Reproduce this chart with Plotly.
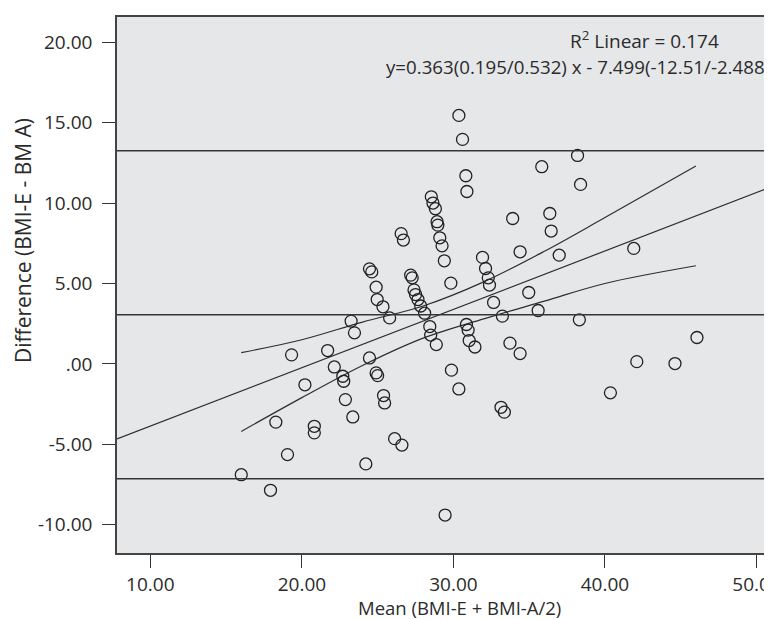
import plotly.graph_objects as go

# ---- data ----
mean_x = [30.36, 30.6, 35.83, 38.19, 38.39, 30.82, 30.89, 28.54, 28.65, 28.81,
          33.91, 36.36, 36.45, 28.92, 28.97, 29.1, 29.25, 29.4, 34.4, 36.98,
          31.92, 32.12, 32.3, 32.38, 29.83, 34.97, 32.65, 35.59, 38.31, 33.23,
          27.18, 27.28, 27.4, 27.5, 27.66, 27.84, 28.1, 28.44, 28.5, 28.87,
          30.86, 30.97, 31.04, 31.42, 33.73, 34.4, 29.87, 30.36, 33.14, 33.36,
          40.36, 42.1, 44.62, 46.07, 41.9, 26.55, 26.7, 24.46, 24.61, 24.9,
          24.97, 25.35, 25.79, 23.25, 23.47, 19.32, 21.7, 22.14, 24.46, 22.7,
          22.76, 24.9, 25.0, 20.2, 22.87, 25.39, 25.46, 18.28, 20.82, 20.82,
          23.36, 26.12, 26.6, 19.05, 16.0, 17.93, 24.22, 29.45]
diff_y = [15.45, 13.96, 12.26, 12.96, 11.16, 11.70, 10.72, 10.39, 10.0, 9.65,
          9.04, 9.35, 8.26, 8.84, 8.63, 7.84, 7.34, 6.41, 6.97, 6.76,
          6.62, 5.93, 5.35, 4.9, 5.02, 4.44, 3.82, 3.32, 2.74, 2.97,
          5.52, 5.35, 4.6, 4.31, 4.0, 3.6, 3.15, 2.32, 1.79, 1.2,
          2.45, 2.1, 1.45, 1.05, 1.29, 0.64, -0.39, -1.56, -2.7, -3.0,
          -1.8, 0.14, 0.02, 1.64, 7.18, 8.1, 7.7, 5.91, 5.72, 4.77,
          4.0, 3.55, 2.86, 2.66, 1.93, 0.56, 0.83, -0.19, 0.37, -0.77,
          -1.08, -0.56, -0.73, -1.3, -2.22, -1.97, -2.43, -3.62, -3.88, -4.29,
          -3.3, -4.65, -5.05, -5.64, -6.89, -7.86, -6.22, -9.4]

mean_diff = 3.05
upper_loa = 13.26
lower_loa = -7.14

slope = 0.363
intercept = -7.499

band_x = [16, 20, 24, 28, 32, 36, 40, 46]
band_upper = [0.7, 1.5, 2.6, 3.6, 5.1, 7.0, 9.1, 12.3]
band_lower = [-4.2, -2.1, -0.1, 1.6, 2.8, 3.9, 5.0, 6.1]

x_ticks = [10, 20, 30, 40, 50]
x_tick_text = ["10.00", "20.00", "30.00", "40.00", "50.00"]
y_ticks = [-10, -5, 0, 5, 10, 15, 20]
y_tick_text = ["-10.00", "-5.00", ".00", "5.00", "10.00", "15.00", "20.00"]

x_range = [7.8, 51.55]
y_range = [-11.76, 21.57]

r2_text = "R<sup>2</sup> Linear = 0.174"
eq_text = "y=0.363(0.195/0.532) x - 7.499(-12.51/-2.488)"
x_title = "Mean (BMI-E + BMI-A/2)"
y_title = "Difference (BMI-E - BM A)"

# ---- figure ----
FONT = "Open Sans"
TXT = "#2b2b2b"
LINE = "#2e2e2e"
FS = 19

fig = go.Figure()

# confidence band curves
fig.add_trace(go.Scatter(x=band_x, y=band_upper, mode="lines",
                         line=dict(color=LINE, width=1.2, shape="spline"),
                         hoverinfo="skip", showlegend=False))
fig.add_trace(go.Scatter(x=band_x, y=band_lower, mode="lines",
                         line=dict(color=LINE, width=1.2, shape="spline"),
                         hoverinfo="skip", showlegend=False))

# regression line over the whole axis range
fig.add_trace(go.Scatter(x=x_range, y=[slope * v + intercept for v in x_range],
                         mode="lines", line=dict(color=LINE, width=1.2),
                         hoverinfo="skip", showlegend=False))

# points
fig.add_trace(go.Scatter(x=mean_x, y=diff_y, mode="markers",
                         marker=dict(symbol="circle-open", size=12, color="#222222",
                                     line=dict(width=1.3, color="#222222")),
                         showlegend=False))

# horizontal mean / limits-of-agreement lines
for val in (upper_loa, mean_diff, lower_loa):
    fig.add_shape(type="line", xref="paper", x0=0, x1=1, yref="y", y0=val, y1=val,
                  line=dict(color="#363636", width=1.5), layer="above")

W, H = 772, 619
L, R, T, B = 109, 0, 9, 74
pw, ph = W - L - R, H - T - B


def px_x(px):
    return (px - L) / pw


def px_y(py):
    return (H - B - py) / ph


annotations = [
    dict(text=r2_text, xref="paper", yref="paper", x=px_x(713), y=px_y(32),
         xanchor="right", yanchor="middle", showarrow=False,
         font=dict(family=FONT, size=FS, color=TXT)),
    dict(text=eq_text, xref="paper", yref="paper", x=px_x(376), y=px_y(59),
         xanchor="left", yanchor="middle", showarrow=False,
         font=dict(family=FONT, size=18.7, color=TXT)),
    dict(text=x_title, xref="paper", yref="paper", x=px_x(451), y=px_y(599),
         xanchor="center", yanchor="middle", showarrow=False,
         font=dict(family=FONT, size=18.5, color=TXT)),
    dict(text=y_title, xref="paper", yref="paper", x=px_x(15), y=px_y(233),
         xanchor="center", yanchor="middle", showarrow=False, textangle=-90,
         font=dict(family=FONT, size=21, color=TXT)),
]

fig.update_layout(
    width=W, height=H,
    margin=dict(l=L, r=R, t=T, b=B, pad=0),
    paper_bgcolor="white",
    plot_bgcolor="#E6E7E9",
    annotations=annotations,
    showlegend=False,
    xaxis=dict(range=x_range, tickvals=x_ticks, ticktext=x_tick_text,
               showgrid=False, zeroline=False, showline=True, mirror=True,
               linecolor="#444444", linewidth=1.5,
               ticks="outside", ticklen=13, tickwidth=1.3, tickcolor="#333333",
               tickfont=dict(family=FONT, size=FS, color=TXT),
               ticklabelstandoff=0, ticklabeloverflow="allow",
               automargin=False, fixedrange=True),
    yaxis=dict(range=y_range, tickvals=y_ticks, ticktext=y_tick_text,
               showgrid=False, zeroline=False, showline=True, mirror=False,
               linecolor="#444444", linewidth=1.5,
               ticks="outside", ticklen=13, tickwidth=1.3, tickcolor="#333333",
               tickfont=dict(family=FONT, size=FS, color=TXT),
               ticklabelstandoff=6,
               automargin=False, fixedrange=True),
)

fig.write_html("out.html")
